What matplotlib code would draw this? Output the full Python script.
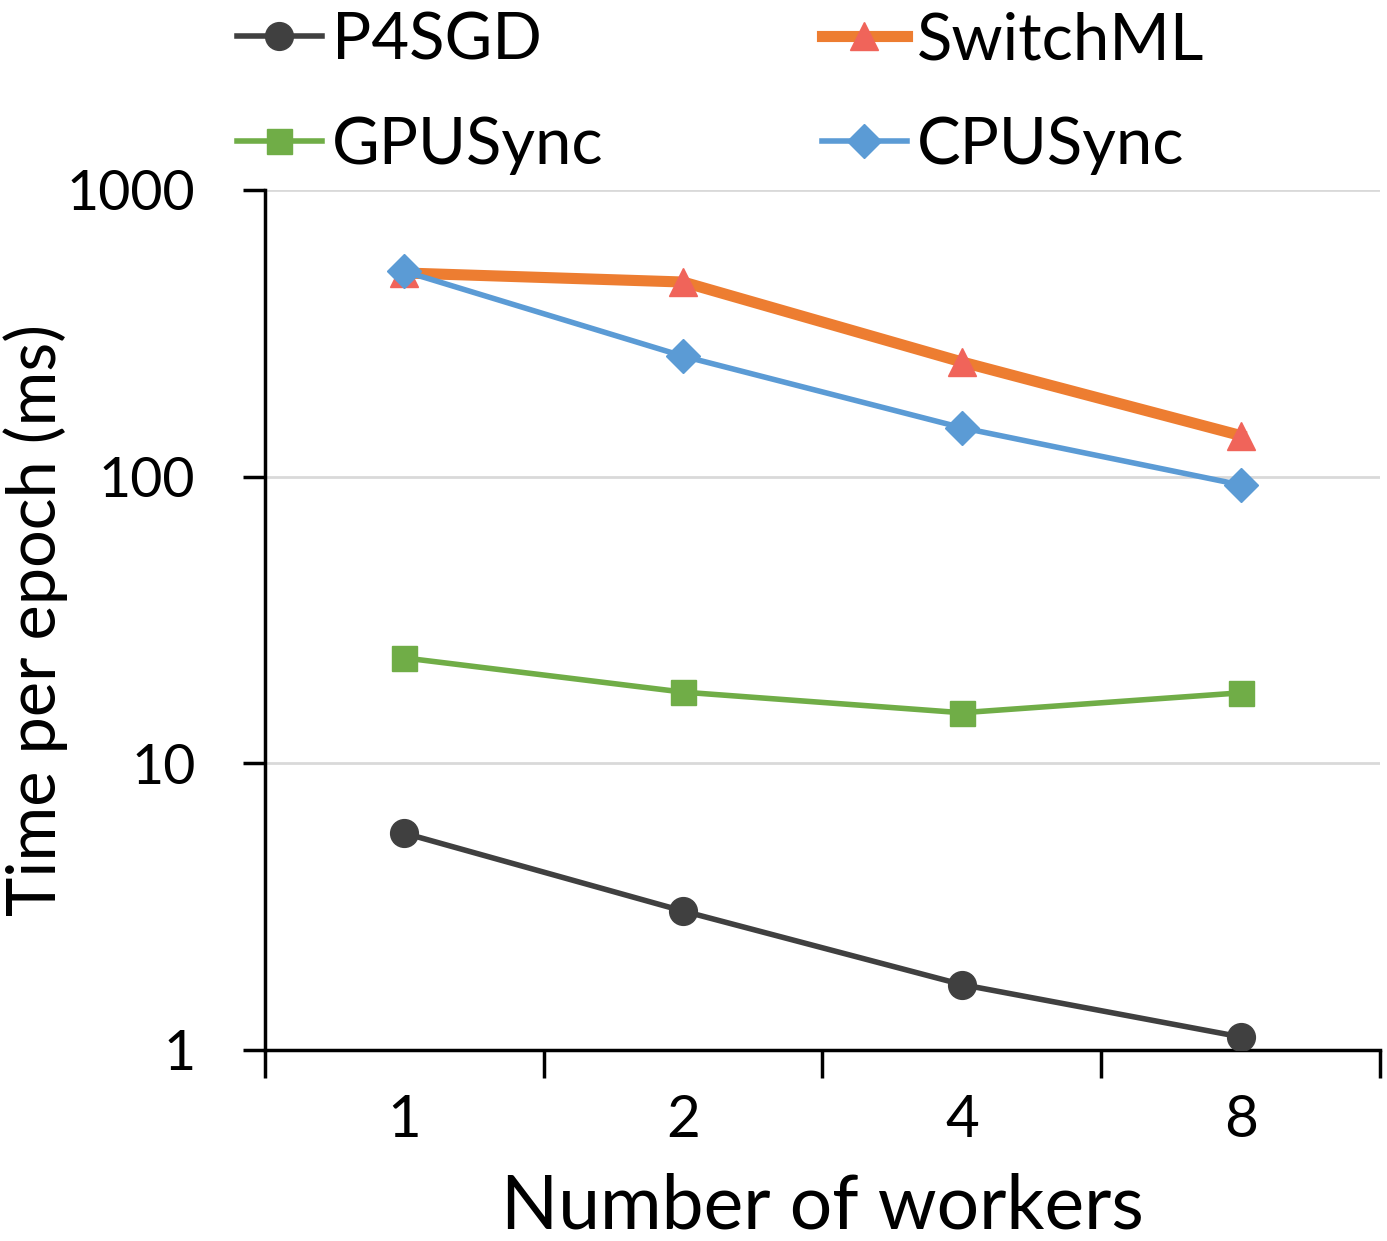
import numpy as np
import matplotlib
matplotlib.use('Agg')
import matplotlib.pyplot as plt

plt.rcParams['font.family'] = ['Lato', 'DejaVu Sans']

# Данные
workers = ['1', '2', '4', '8']
p4sgd = [5.7, 3.05, 1.69, 1.11]
switchml = [513, 477, 251, 139]
gpusync = [23.3, 17.7, 15.0, 17.6]
cpusync = [520, 263, 148, 93.5]

fig = plt.figure(figsize=(13.87, 12.41), dpi=100)
ax = fig.add_axes([0.191, 0.154, 0.804, 0.693])

x = np.arange(len(workers))

h1, = ax.plot(x, p4sgd, color='#404040', lw=4, marker='o', ms=20, label='P4SGD', zorder=3)
h2, = ax.plot(x, switchml, color='#ED7D31', lw=8, marker='^', ms=20, mfc='#F0645A', mec='#F0645A',
              label='SwitchML', zorder=3)
h3, = ax.plot(x, gpusync, color='#70AD47', lw=4, marker='s', ms=18, label='GPUSync', zorder=3)
h4, = ax.plot(x, cpusync, color='#5B9BD5', lw=4, marker='D', ms=17, label='CPUSync', zorder=4)

ax.set_yscale('log')
ax.set_ylim(1, 1000)
ax.set_xlim(-0.5, 3.5)
ax.set_yticks([1, 10, 100, 1000])
ax.set_yticklabels(['1', '10', '100', '1000'])
ax.minorticks_off()
ax.set_xticks(x)
ax.set_xticklabels(workers)
ax.set_xticks(np.arange(-0.5, 4, 1), minor=True)

ax.grid(True, axis='y', color='#D9D9D9', lw=2)
ax.set_axisbelow(True)
for s in ['top', 'right']:
    ax.spines[s].set_visible(False)
ax.spines['left'].set_linewidth(2.5)
ax.spines['bottom'].set_linewidth(2.5)

ax.tick_params(axis='y', which='major', length=16, width=2.5, labelsize=40, pad=34)
ax.tick_params(axis='x', which='major', length=0, labelsize=42, pad=32)
ax.tick_params(axis='x', which='minor', length=20, width=2.5, direction='out')

ax.set_xlabel('Number of workers', fontsize=54, labelpad=18)
ax.set_ylabel('Time per epoch (ms)', fontsize=48)
ax.yaxis.set_label_coords(-0.177, 0.5)

# порядок как в оригинале: строки P4SGD/SwitchML и GPUSync/CPUSync
fig.legend([h1, h3, h2, h4], ['P4SGD', 'GPUSync', 'SwitchML', 'CPUSync'],
           loc='upper left', bbox_to_anchor=(0.152, 1.012), ncol=2, fontsize=47,
           frameon=False, handlelength=1.3, handletextpad=0.15, columnspacing=3.35,
           labelspacing=0.7, borderaxespad=0)

plt.savefig('out.png', dpi=100)
